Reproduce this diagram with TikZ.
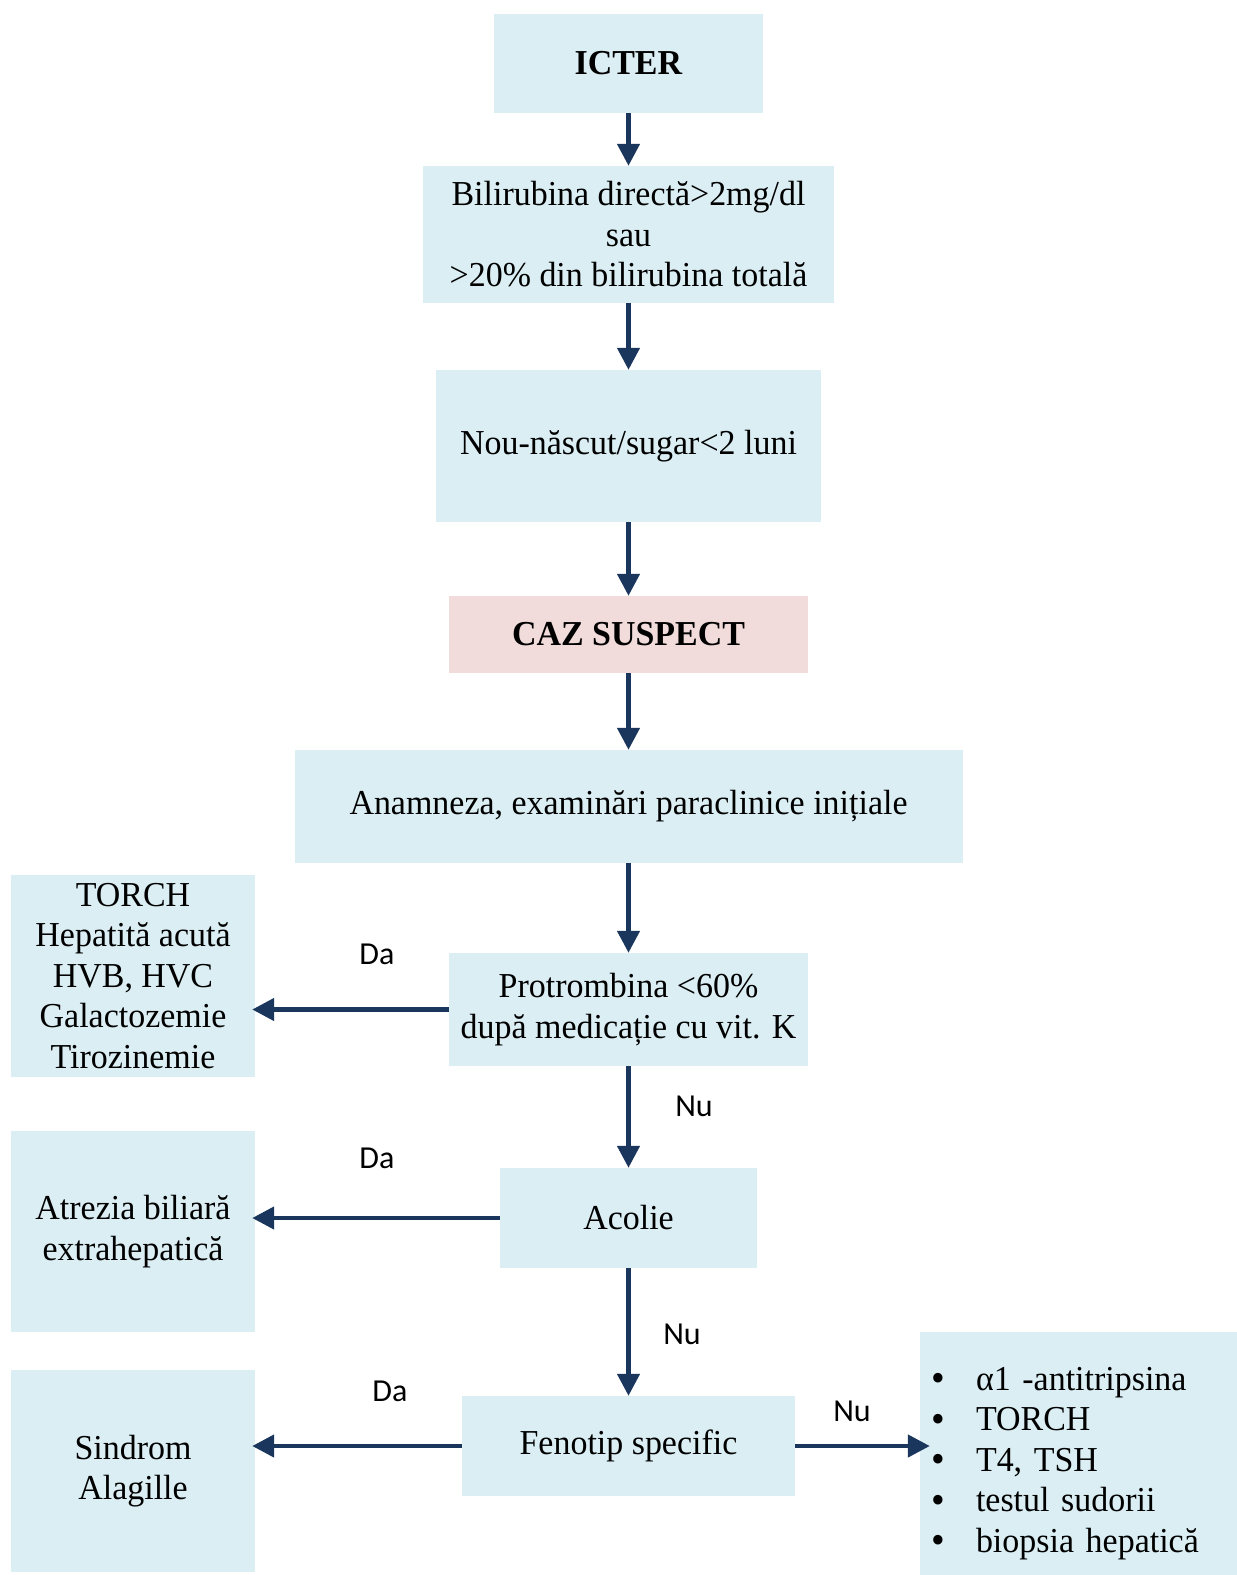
\documentclass[tikz,border=0pt]{standalone}
\usepackage{fontspec}
\usepackage{graphicx}
\setmainfont{Liberation Serif}[FakeStretch=0.97]
\newfontfamily\lblfont{Carlito}
\usetikzlibrary{arrows.meta}
\definecolor{boxblue}{HTML}{DAEEF3}
\definecolor{boxpink}{HTML}{F2DCDB}
\definecolor{arrowcol}{HTML}{1B365D}
\newcommand{\bigbul}{\makebox[45pt][l]{\smash{\raisebox{-1.5pt}{\scalebox{1.15}{•}}}}}
\tikzset{
  flowbox/.style={rectangle, fill=boxblue, draw=none, inner sep=0pt, align=center,
    font=\fontsize{35}{40.5}\selectfont},
  pinkbox/.style={flowbox, fill=boxpink},
  conn/.style={draw=arrowcol, line width=4.5pt, -{Triangle[width=22pt,length=22pt]}},
  lbl/.style={font=\lblfont\fontsize{32}{36}\selectfont, inner sep=0pt},
  listtext/.style={inner sep=0pt, align=left, text width=290pt, font=\fontsize{35}{40.5}\selectfont}
}
\begin{document}
\begin{tikzpicture}[x=1pt,y=-1pt]
\useasboundingbox (0,0) rectangle (1237,1575);
\node[flowbox, minimum width=269pt, minimum height=99pt] (icter) at (628.5,63.5) {\textbf{ICTER}};
\node[flowbox, minimum width=411pt, minimum height=137pt] (bili) at (628.5,234.5) {Bilirubina directă>2mg/dl\\sau\\>20\% din bilirubina totală};
\node[flowbox, minimum width=385pt, minimum height=152pt] (nou) at (628.5,446) {Nou-născut/sugar<2 luni};
\node[pinkbox, minimum width=359pt, minimum height=77pt] (caz) at (628.5,634.5) {\textbf{CAZ SUSPECT}};
\node[flowbox, minimum width=668pt, minimum height=113pt] (anam) at (628.5,806.5) {Anamneza, examinări paraclinice inițiale};
\node[flowbox, minimum width=359pt, minimum height=113pt] (prot) at (628.5,1009.5) {Protrombina <60\%\\după medicație cu vit. K};
\node[flowbox, minimum width=244pt, minimum height=202pt] (torch) at (133,976) {TORCH\\Hepatită acută\\HVB, HVC\\Galactozemie\\Tirozinemie};
\node[flowbox, minimum width=257pt, minimum height=100pt] (acolie) at (628.5,1218) {Acolie};
\node[flowbox, minimum width=244pt, minimum height=201pt] (atrezia) at (133,1231.5) {Atrezia biliară\\extrahepatică};
\node[flowbox, minimum width=333pt, minimum height=100pt] (fen) at (628.5,1446) {Fenotip specific};
\node[flowbox, minimum width=244pt, minimum height=202pt] (sindrom) at (133,1471) {Sindrom\\Alagille};
\node[flowbox, minimum width=317pt, minimum height=243pt] (bul) at (1078.5,1453.5) {};
\node[listtext, anchor=west] (bultext) at ([xshift=11pt,yshift=-10pt]bul.west)
  {\bigbul α1 -antitripsina\\
   \bigbul TORCH\\
   \bigbul T4, TSH\\
   \bigbul testul sudorii\\
   \bigbul biopsia hepatică};
\draw[conn] (icter) -- (bili);
\draw[conn] (bili) -- (nou);
\draw[conn] (nou) -- (caz);
\draw[conn] (caz) -- (anam);
\draw[conn] (anam) -- (prot);
\draw[conn] (prot) -- (acolie);
\draw[conn] (acolie) -- (fen);
\draw[conn, shorten >=-3pt] (prot.west) -- (prot.west -| torch.east);
\draw[conn, shorten >=-3pt] (acolie.west) -- (acolie.west -| atrezia.east);
\draw[conn, shorten >=-3pt] (fen.west) -- (fen.west -| sindrom.east);
\draw[conn, shorten >=-10pt] (fen.east) -- (fen.east -| bul.west);
\node[lbl] (da1) at (377,954) {Da};
\node[lbl] (nu1) at (694,1106) {Nu};
\node[lbl] (da2) at (377,1158) {Da};
\node[lbl] (nu2) at (682,1334) {Nu};
\node[lbl] (da3) at (390,1391) {Da};
\node[lbl] (nu3) at (852,1411) {Nu};
\end{tikzpicture}
\end{document}
